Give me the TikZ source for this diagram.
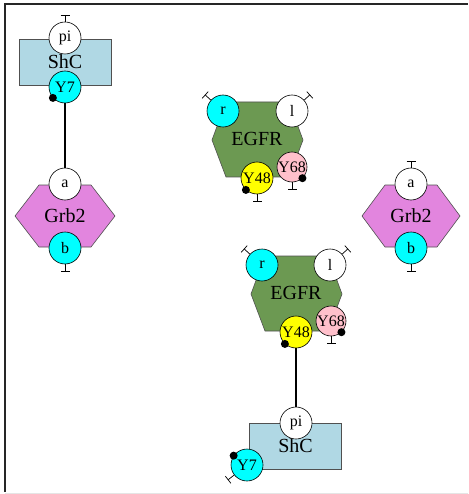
\documentclass[tikz,border=0pt]{standalone}
\usepackage{fontspec}
\setmainfont{Liberation Serif}
\usepackage{xcolor}
\usepackage{tikz}
\usetikzlibrary{arrows.meta}
\tikzset{>=Latex}
\definecolor{shcblue}{RGB}{176,216,228}
\definecolor{grbviolet}{RGB}{226,133,222}
\definecolor{egfrgreen}{RGB}{108,153,82}
\definecolor{sitecyan}{RGB}{0,255,255}
\definecolor{siteyellow}{RGB}{255,255,0}
\definecolor{sitepink}{RGB}{255,192,203}
\definecolor{edgegray}{RGB}{80,80,80}

\begin{document}
\begin{tikzpicture}[x=1pt,y=-1pt,
shcbox/.style={rectangle, draw=edgegray, fill=shcblue, minimum width=92pt, minimum height=46pt, font=\fontsize{20}{21}\selectfont},
hexa/.style={draw=edgegray, line width=0.6pt},
protname/.style={inner sep=0pt, font=\fontsize{20}{21}\selectfont},
site/.style={circle, draw=black, line width=0.6pt, fill=white, minimum size=32pt, inner sep=0pt, font=\fontsize{16}{17}\selectfont},
phospho/.style={circle, fill=black, minimum size=8pt, inner sep=0pt},
bond/.style={line width=1.8pt},
tether/.style={line width=0.7pt, -{Bar[width=9pt]}},
]
\useasboundingbox (0,0) rectangle (468,494);
%Frame
\draw[gray!20] (5,493) -- (468,493);
\draw[line width=1.2pt, black!85] (5,492) -- (5,4) -- (468,4);

%Hexagons
\draw[hexa, fill=grbviolet] (15,216) -- (39,185) -- (91,185) -- (115,216) -- (91,247) -- (39,247) -- cycle;
\draw[hexa, fill=grbviolet] (362,216) -- (385,185) -- (437,185) -- (460,216) -- (437,247) -- (385,247) -- cycle;
\draw[hexa, fill=egfrgreen] (212,140) -- (226,102) -- (289,102) -- (303,140) -- (289,177) -- (226,177) -- cycle;
\draw[hexa, fill=egfrgreen] (251,294) -- (265,256) -- (328,256) -- (342,294) -- (328,331) -- (265,331) -- cycle;

%Nodes
\node[shcbox] (ShcUp) at (65,62) {ShC};
\node[shcbox] (ShcLow) at (295.5,446) {ShC};
\node[protname] (GrbLeft) at (65,216) {Grb2};
\node[protname] (GrbRight) at (411,216) {Grb2};
\node[protname] (EgfrUp) at (257,139) {EGFR};
\node[protname] (EgfrLow) at (296,293) {EGFR};

%Sites
\node[site] (ShcUpPi) at (65,38) {pi};
\node[site, fill=sitecyan] (ShcUpY) at (65,87) {Y7};
\node[site] (GrbLeftA) at (65,184) {a};
\node[site, fill=sitecyan] (GrbLeftB) at (65,248) {b};
\node[site] (GrbRightA) at (411,184) {a};
\node[site, fill=sitecyan] (GrbRightB) at (411,248) {b};
\node[site, fill=sitecyan] (EgfrUpR) at (223,111) {r};
\node[site] (EgfrUpL) at (292,111) {l};
\node[site, fill=sitepink, minimum size=30pt] (EgfrUpYb) at (292,167) {Y68};
\node[site, fill=siteyellow] (EgfrUpYa) at (257,178) {Y48};
\node[site, fill=sitecyan] (EgfrLowR) at (262,265) {r};
\node[site] (EgfrLowL) at (330,265) {l};
\node[site, fill=sitepink, minimum size=30pt] (EgfrLowYb) at (331,321) {Y68};
\node[site, fill=siteyellow] (EgfrLowYa) at (296,332) {Y48};
\node[site] (ShcLowPi) at (296,423) {pi};
\node[site, fill=sitecyan] (ShcLowY) at (247,465) {Y7};

%Phosphorylation marks
\node[phospho] (ShcUpP) at (ShcUpY.222) {};
\node[phospho] (EgfrUpPa) at (EgfrUpYa.227) {};
\node[phospho] (EgfrUpPb) at (EgfrUpYb.313) {};
\node[phospho] (EgfrLowPa) at (EgfrLowYa.227) {};
\node[phospho] (EgfrLowPb) at (EgfrLowYb.313) {};
\node[phospho] (ShcLowP) at (ShcLowY.145) {};

%Bonds
\draw[bond] (ShcUpY) -- (GrbLeftA);
\draw[bond] (EgfrLowYa) -- (ShcLowPi);

%Free sites
\draw[tether] (ShcUpPi.north) -- ++(0,-7);
\draw[tether] (GrbLeftB.south) -- ++(0,7);
\draw[tether] (GrbRightA.north) -- ++(0,-7);
\draw[tether] (GrbRightB.south) -- ++(0,7);
\draw[tether] (EgfrUpR.138) -- ++(138:8pt);
\draw[tether] (EgfrUpL.42) -- ++(42:8pt);
\draw[tether] (EgfrUpYa.south) -- ++(0,7);
\draw[tether] (EgfrUpYb.south) -- ++(0,7);
\draw[tether] (EgfrLowR.138) -- ++(138:8pt);
\draw[tether] (EgfrLowL.42) -- ++(42:8pt);
\draw[tether] (EgfrLowYb.south) -- ++(0,7);
\draw[tether] (ShcLowY.218) -- ++(218:8pt);
\end{tikzpicture}
\end{document}
